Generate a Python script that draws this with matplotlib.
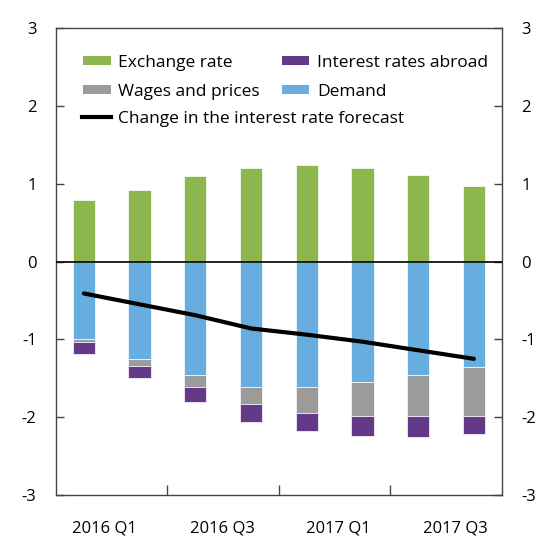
import matplotlib
matplotlib.use("Agg")
import matplotlib.pyplot as plt
from matplotlib.patches import Patch
from matplotlib.lines import Line2D
import numpy as np

plt.rcParams['font.family'] = ['Open Sans', 'DejaVu Sans']
plt.rcParams['axes.unicode_minus'] = False

quarters = ["2016 Q1", "2016 Q2", "2016 Q3", "2016 Q4",
            "2017 Q1", "2017 Q2", "2017 Q3", "2017 Q4"]
exchange_rate = [0.79, 0.915, 1.10, 1.20, 1.24, 1.20, 1.11, 0.97]
demand = [-0.99, -1.25, -1.46, -1.61, -1.61, -1.55, -1.46, -1.36]
wages_prices = [-0.05, -0.09, -0.15, -0.22, -0.33, -0.44, -0.53, -0.62]
interest_abroad = [-0.15, -0.16, -0.19, -0.23, -0.24, -0.25, -0.26, -0.24]
rate_change = [-0.41, -0.55, -0.69, -0.86, -0.94, -1.03, -1.14, -1.25]
x_labels = ["2016 Q1", "2016 Q3", "2017 Q1", "2017 Q3"]

c_green = "#8DB64E"
c_blue = "#68ADE0"
c_gray = "#9B9B9B"
c_purple = "#633A87"

fig = plt.figure(figsize=(5.6, 5.6), dpi=100)
ax = fig.add_axes([0.1, 0.116, 0.796, 0.834])

x = np.arange(len(quarters))
w = 0.4
d = np.array(demand)
wp = np.array(wages_prices)
ia = np.array(interest_abroad)
ek = dict(edgecolor="white", linewidth=0.5)
ax.bar(x, exchange_rate, w, color=c_green, **ek)
ax.bar(x, d, w, color=c_blue, **ek)
ax.bar(x, wp, w, bottom=d, color=c_gray, **ek)
ax.bar(x, ia, w, bottom=d + wp, color=c_purple, **ek)
ax.axhline(0, color="black", linewidth=1.2, zorder=3)
ax.plot(x, rate_change, color="black", linewidth=3, solid_capstyle="round", zorder=4)

ax.set_xlim(-0.5, len(quarters) - 0.5)
ax.set_ylim(-3, 3)
ax.set_yticks(range(-3, 4))

for s in ax.spines.values():
    s.set_color("#444444")
    s.set_linewidth(1)

ax.tick_params(axis="y", which="both", direction="in", length=6, width=1,
               color="#444444", labelsize=12, left=True, right=True,
               labelleft=True, labelright=True, pad=14)
ax.set_xticks([1.5, 3.5, 5.5])
ax.set_xticklabels([])
ax.tick_params(axis="x", which="major", direction="in", length=7, width=1,
               color="#444444")
ax.set_xticks([0.37, 2.48, 4.56, 6.67], minor=True)
ax.set_xticklabels(x_labels, minor=True)
ax.tick_params(axis="x", which="minor", length=0, labelsize=12, pad=18)

fs = 12.5
h1 = [Patch(facecolor=c_green), Patch(facecolor=c_gray),
      Patch(facecolor=c_purple), Patch(facecolor=c_blue)]
l1 = ["Exchange rate", "Wages and prices", "Interest rates abroad", "Demand"]
leg1 = ax.legend(h1, l1, ncol=2, loc="upper left", bbox_to_anchor=(0.06, 0.943),
                 frameon=False, fontsize=fs, handlelength=1.6, handleheight=0.5,
                 handletextpad=0.45, columnspacing=1.25, labelspacing=0.75,
                 borderaxespad=0, borderpad=0)
ax.add_artist(leg1)
h2 = [Line2D([0], [0], color="black", linewidth=3)]
ax.legend(h2, ["Change in the interest rate forecast"], loc="upper left",
          bbox_to_anchor=(0.058, 0.822), frameon=False, fontsize=fs,
          handlelength=1.7, handletextpad=0.4, borderaxespad=0, borderpad=0)

fig.savefig("out.png", dpi=100)
